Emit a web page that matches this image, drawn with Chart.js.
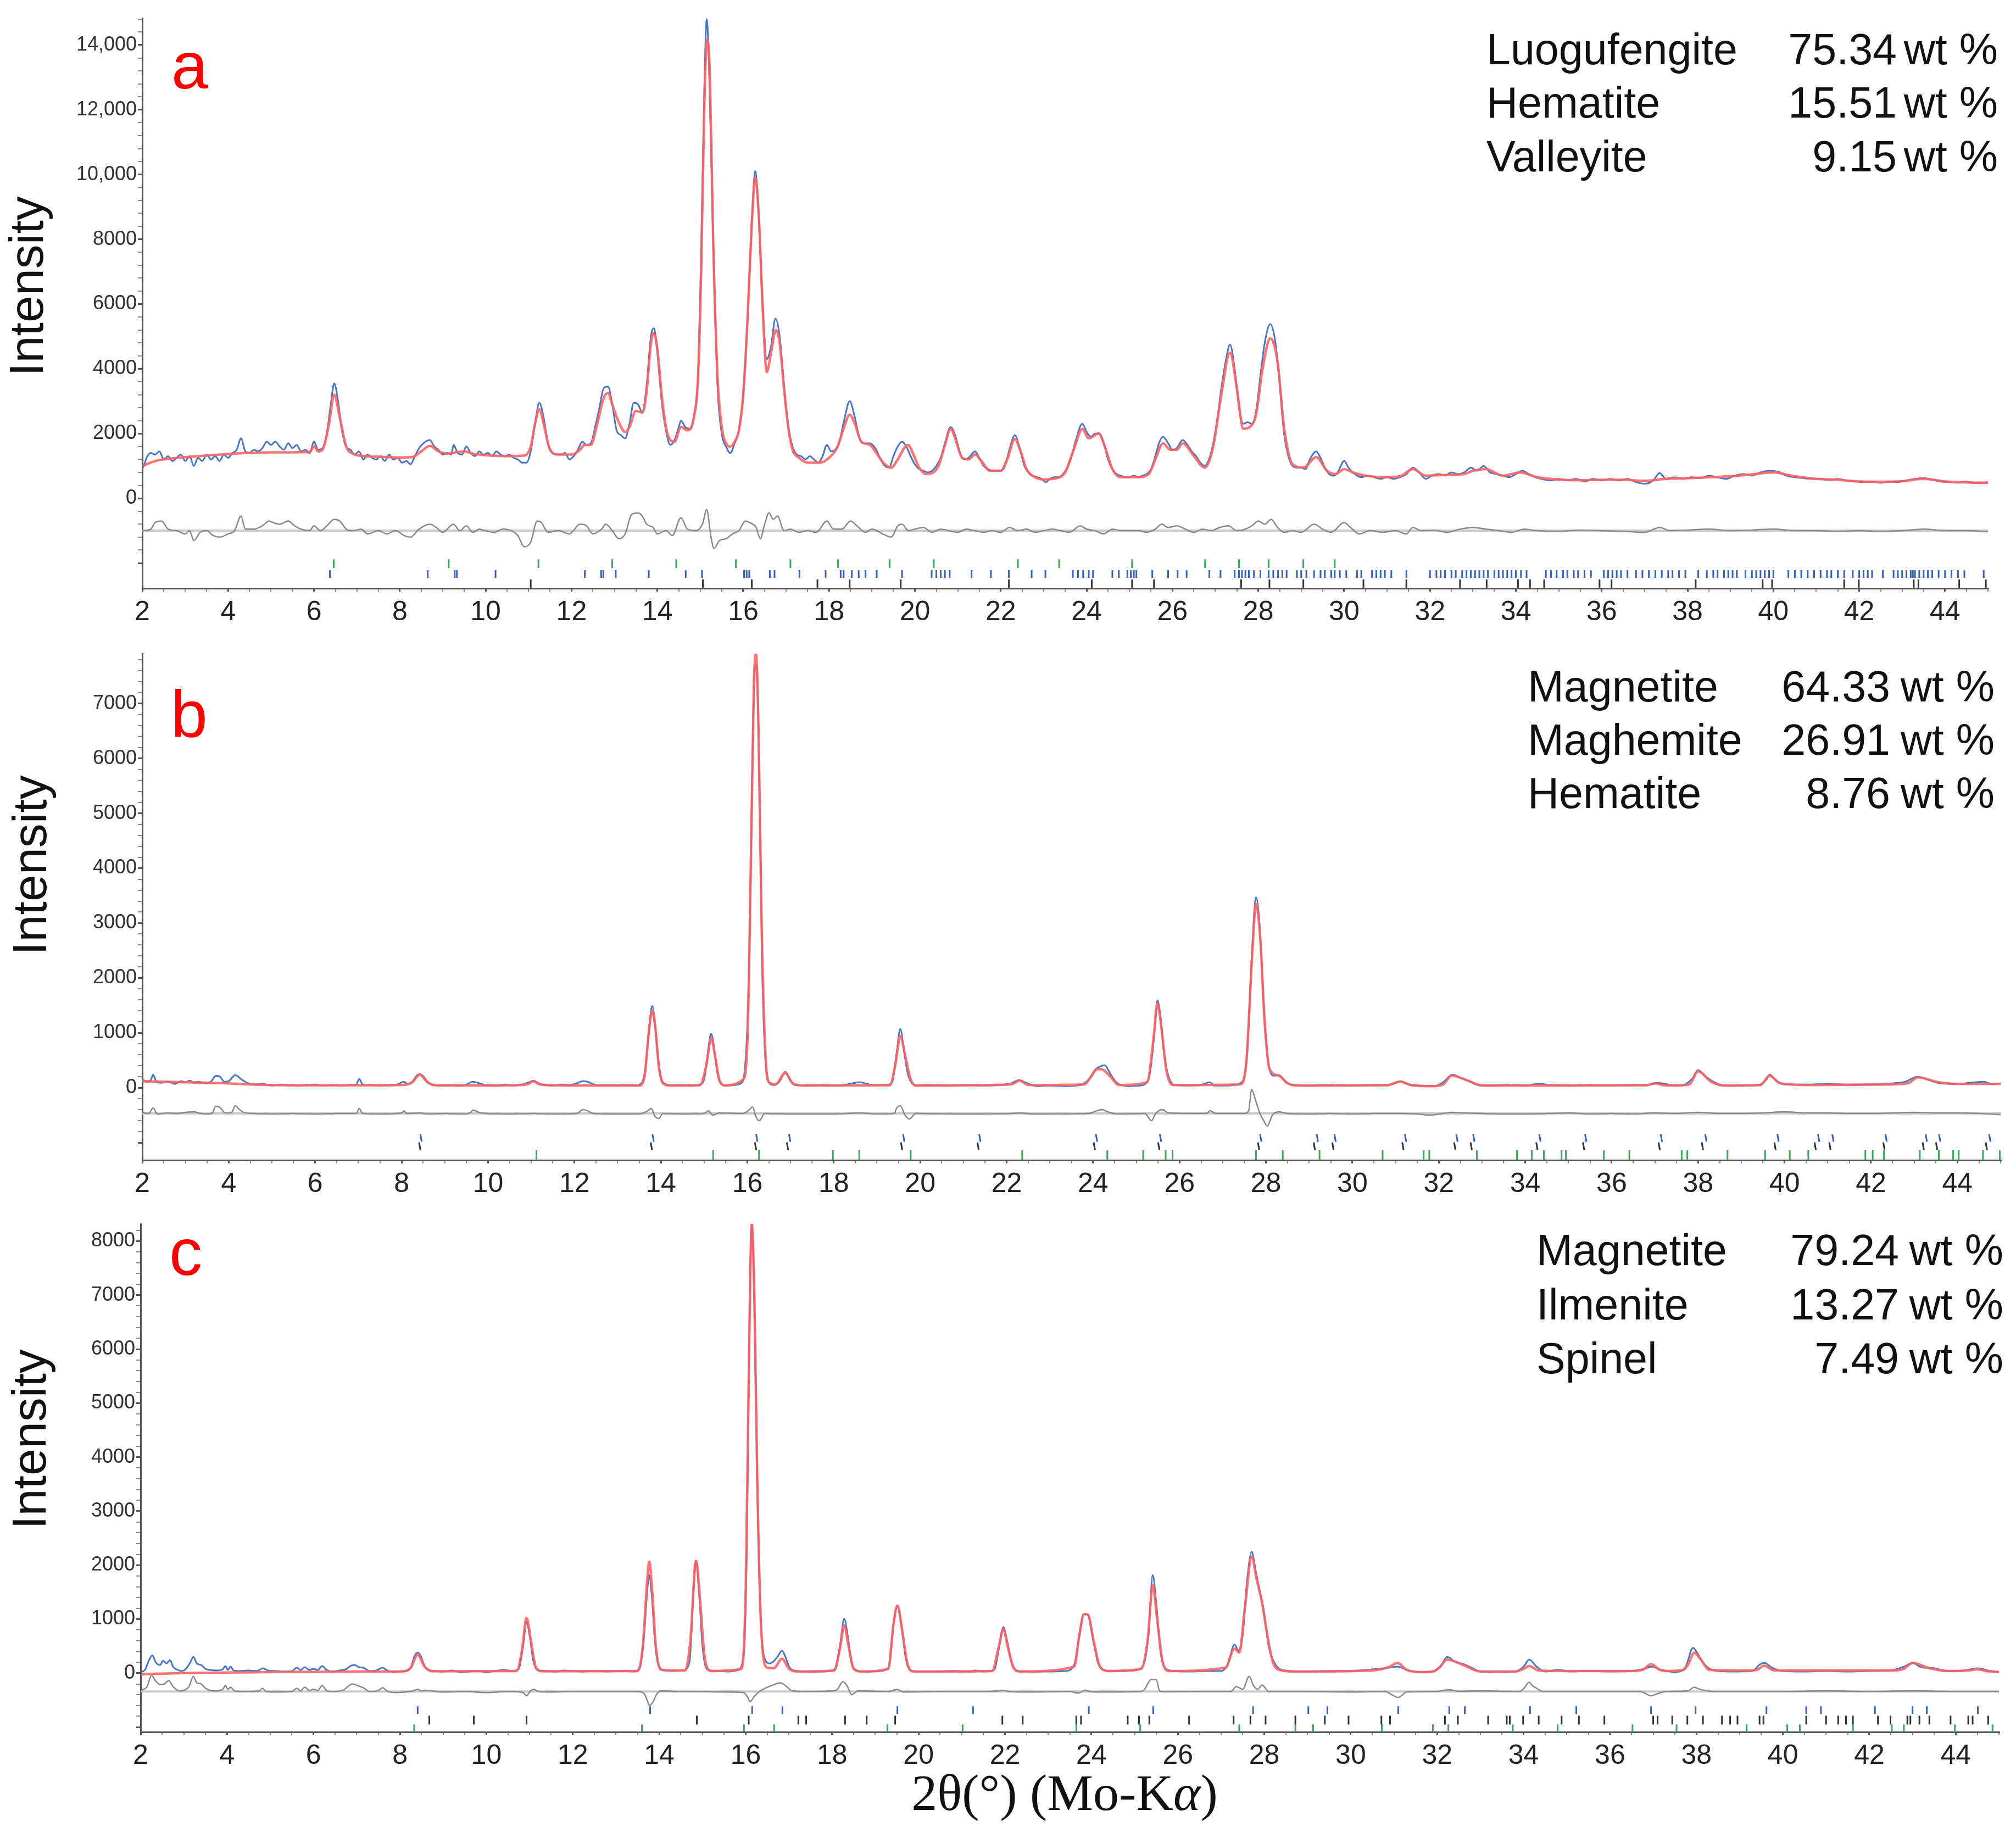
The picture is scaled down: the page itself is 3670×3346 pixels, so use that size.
<!DOCTYPE html>
<html>
<head>
<meta charset="utf-8">
<script src="https://cdn.jsdelivr.net/npm/chart.js@4.4.0/dist/chart.umd.min.js"></script>
<style>
  body { margin: 0; background: #fff; }
  .panel { position: absolute; left: 0; width: 3670px; }
</style>
</head>
<body>
<div class="panel" style="top:0px;height:1150px"><canvas id="chartA" width="3670" height="1150"></canvas></div>
<div class="panel" style="top:1150px;height:1030px"><canvas id="chartB" width="3670" height="1030"></canvas></div>
<div class="panel" style="top:2180px;height:1166px"><canvas id="chartC" width="3670" height="1166"></canvas></div>
<script>
// x axis labels (2theta, degrees)
var xTickValues = [2, 4, 6, 8, 10, 12, 14, 16, 18, 20, 22, 24, 26, 28, 30, 32, 34, 36, 38, 40, 42, 44];
var xMinorStep = 0.5;

// ---------- panel a ----------
var yTicksA = [-2000, 0, 2000, 4000, 6000, 8000, 10000, 12000, 14000];
var yMinorStepA = 400;
var phasesA = ['Luogufengite', 'Hematite', 'Valleyite'];
var wtA = ['75.34', '15.51', '9.15'];

var obsA = [[2.0,900],[2.05,1050],[2.1,1250],[2.2,1400],[2.3,1350],[2.4,1450],[2.5,1200],[2.6,1300],[2.7,1150],[2.8,1250],[2.9,1350],[3.0,1150],[3.1,1300],[3.2,1000],[3.3,1250],[3.4,1150],[3.5,1350],[3.6,1200],[3.7,1300],[3.8,1150],[3.9,1350],[4.0,1250],[4.1,1400],[4.2,1500],[4.3,1850],[4.4,1450],[4.5,1400],[4.6,1500],[4.7,1450],[4.8,1550],[4.9,1750],[5.0,1650],[5.1,1750],[5.2,1600],[5.3,1500],[5.4,1700],[5.5,1550],[5.6,1650],[5.7,1450],[5.8,1500],[5.9,1400],[6.0,1750],[6.1,1500],[6.2,1550],[6.3,2000],[6.4,3000],[6.47,3550],[6.55,3100],[6.65,2100],[6.75,1600],[6.85,1500],[6.95,1350],[7.05,1450],[7.15,1200],[7.25,1350],[7.35,1250],[7.45,1200],[7.55,1300],[7.65,1150],[7.75,1350],[7.85,1200],[7.95,1250],[8.05,1100],[8.15,1150],[8.25,1050],[8.35,1300],[8.45,1550],[8.55,1700],[8.7,1800],[8.8,1600],[8.9,1500],[9.0,1350],[9.1,1400],[9.2,1350],[9.25,1650],[9.35,1400],[9.45,1350],[9.55,1600],[9.65,1400],[9.75,1300],[9.85,1450],[9.95,1350],[10.05,1400],[10.15,1300],[10.25,1450],[10.35,1350],[10.45,1300],[10.55,1350],[10.65,1250],[10.75,1200],[10.85,1100],[10.95,1100],[11.05,1450],[11.15,2300],[11.25,2950],[11.35,2500],[11.45,1700],[11.55,1400],[11.65,1350],[11.75,1350],[11.85,1400],[11.95,1200],[12.05,1300],[12.15,1500],[12.25,1750],[12.35,1650],[12.45,1700],[12.55,2200],[12.65,2800],[12.75,3400],[12.85,3450],[12.95,2900],[13.05,2100],[13.15,1950],[13.25,1850],[13.35,2300],[13.45,2950],[13.55,2900],[13.65,2650],[13.75,3500],[13.85,5000],[13.92,5250],[14.0,4500],[14.1,3000],[14.2,2100],[14.3,1650],[14.4,1800],[14.5,2200],[14.55,2400],[14.65,2200],[14.75,2150],[14.85,2500],[14.95,3800],[15.02,7500],[15.1,13000],[15.15,14800],[15.2,13500],[15.3,8000],[15.4,3500],[15.5,2000],[15.6,1600],[15.7,1400],[15.8,1700],[15.9,2100],[16.0,3200],[16.1,5500],[16.2,8500],[16.28,10100],[16.35,9000],[16.45,6000],[16.55,4300],[16.65,4700],[16.75,5550],[16.85,5000],[16.95,3500],[17.05,2200],[17.15,1600],[17.25,1350],[17.35,1300],[17.45,1200],[17.55,1300],[17.65,1200],[17.75,1100],[17.85,1300],[17.95,1650],[18.05,1450],[18.15,1500],[18.25,1800],[18.35,2400],[18.48,3000],[18.6,2500],[18.7,1900],[18.8,1700],[18.95,1700],[19.1,1500],[19.2,1200],[19.3,1000],[19.4,950],[19.5,1300],[19.6,1600],[19.7,1750],[19.8,1600],[19.9,1300],[20.0,1050],[20.1,900],[20.2,850],[20.3,800],[20.4,850],[20.5,1000],[20.6,1250],[20.7,1700],[20.83,2200],[20.95,1900],[21.05,1400],[21.15,1200],[21.25,1250],[21.4,1450],[21.5,1250],[21.6,1000],[21.7,900],[21.85,850],[22.0,850],[22.1,1000],[22.2,1500],[22.33,1950],[22.45,1500],[22.55,1000],[22.65,800],[22.75,700],[22.85,650],[22.95,600],[23.05,500],[23.15,600],[23.25,650],[23.35,650],[23.45,750],[23.55,950],[23.65,1300],[23.75,1800],[23.9,2300],[24.0,2050],[24.1,1900],[24.2,2000],[24.3,2000],[24.4,1700],[24.5,1200],[24.6,900],[24.7,750],[24.8,700],[24.9,650],[25.0,650],[25.1,700],[25.2,650],[25.3,700],[25.4,750],[25.5,900],[25.6,1300],[25.7,1750],[25.78,1900],[25.9,1700],[26.0,1500],[26.1,1550],[26.24,1800],[26.35,1650],[26.45,1450],[26.55,1300],[26.65,1100],[26.75,1000],[26.85,1200],[26.95,1700],[27.05,2500],[27.15,3500],[27.25,4300],[27.34,4750],[27.45,4000],[27.55,2800],[27.65,2300],[27.75,2350],[27.85,2300],[27.95,2700],[28.05,3800],[28.15,4800],[28.28,5380],[28.4,4800],[28.5,3500],[28.6,2000],[28.7,1300],[28.8,1000],[28.9,950],[29.0,950],[29.1,900],[29.2,1200],[29.35,1450],[29.45,1250],[29.55,950],[29.65,750],[29.75,700],[29.85,800],[30.0,1150],[30.1,950],[30.2,800],[30.3,700],[30.4,650],[30.55,700],[30.7,650],[30.85,600],[31.0,650],[31.15,600],[31.3,650],[31.45,750],[31.6,950],[31.75,800],[31.9,600],[32.05,700],[32.2,750],[32.35,700],[32.5,800],[32.65,750],[32.8,800],[32.95,950],[33.1,850],[33.25,1000],[33.4,800],[33.55,750],[33.7,700],[33.85,650],[34.0,750],[34.15,850],[34.3,750],[34.45,650],[34.6,600],[34.8,550],[35.0,600],[35.2,550],[35.4,600],[35.6,520],[35.8,600],[36.0,550],[36.2,600],[36.4,550],[36.6,600],[36.8,500],[37.0,450],[37.2,550],[37.35,780],[37.5,600],[37.7,650],[37.9,600],[38.1,650],[38.3,620],[38.5,700],[38.7,650],[38.9,600],[39.1,700],[39.3,750],[39.5,700],[39.7,800],[39.9,850],[40.1,820],[40.3,700],[40.5,650],[40.7,620],[40.9,600],[41.1,600],[41.3,570],[41.5,600],[41.7,550],[41.9,520],[42.1,500],[42.3,520],[42.5,480],[42.7,520],[42.9,500],[43.1,550],[43.3,600],[43.5,620],[43.7,580],[43.9,520],[44.1,500],[44.3,480],[44.5,520],[44.7,470],[44.9,480],[45.0,500]];

var calcA = [[2.0,1000],[2.3,1150],[2.6,1220],[3.0,1270],[3.5,1320],[4.0,1370],[4.5,1400],[5.0,1420],[5.5,1420],[5.9,1430],[6.0,1600],[6.1,1450],[6.2,1500],[6.35,2300],[6.47,3200],[6.6,2500],[6.75,1600],[6.9,1380],[7.2,1300],[7.6,1280],[8.0,1260],[8.3,1280],[8.5,1450],[8.7,1620],[8.9,1450],[9.1,1380],[9.3,1420],[9.5,1450],[9.7,1380],[10.0,1330],[10.5,1300],[10.9,1320],[11.05,1600],[11.15,2300],[11.25,2750],[11.35,2300],[11.5,1500],[11.7,1350],[12.0,1350],[12.2,1500],[12.3,1650],[12.45,1650],[12.6,2300],[12.75,3100],[12.85,3250],[12.95,2900],[13.1,2350],[13.25,2050],[13.35,2200],[13.5,2700],[13.65,2650],[13.75,3300],[13.85,4800],[13.92,5100],[14.0,4600],[14.1,3200],[14.2,2200],[14.3,1800],[14.4,1750],[14.55,2200],[14.7,2100],[14.85,2500],[14.95,3800],[15.02,7000],[15.1,12500],[15.16,14150],[15.22,13200],[15.3,8000],[15.4,3800],[15.5,2200],[15.6,1700],[15.7,1600],[15.8,1750],[15.9,2100],[16.0,3200],[16.1,5500],[16.2,8500],[16.28,9900],[16.36,8800],[16.45,6000],[16.55,3900],[16.65,4500],[16.76,5200],[16.85,4800],[16.95,3400],[17.05,2200],[17.15,1500],[17.3,1250],[17.5,1100],[17.8,1100],[18.0,1250],[18.2,1600],[18.35,2200],[18.48,2580],[18.6,2300],[18.75,1750],[18.95,1650],[19.1,1400],[19.3,1050],[19.45,950],[19.6,1200],[19.75,1550],[19.84,1650],[19.95,1400],[20.1,950],[20.25,750],[20.4,780],[20.55,1000],[20.7,1650],[20.83,2140],[20.95,1800],[21.1,1250],[21.25,1200],[21.4,1350],[21.55,1150],[21.75,850],[22.0,850],[22.15,1200],[22.33,1830],[22.45,1500],[22.6,900],[22.8,650],[23.0,580],[23.3,620],[23.5,800],[23.7,1500],[23.9,2140],[24.05,1850],[24.28,2000],[24.45,1500],[24.6,900],[24.8,650],[25.2,650],[25.45,750],[25.6,1200],[25.78,1700],[25.95,1500],[26.1,1500],[26.24,1700],[26.5,1300],[26.75,950],[26.95,1600],[27.15,3300],[27.34,4500],[27.5,3400],[27.65,2150],[27.8,2200],[27.95,2600],[28.1,4000],[28.28,4940],[28.45,4200],[28.6,2200],[28.8,1050],[29.05,950],[29.35,1270],[29.6,850],[29.8,750],[30.0,900],[30.2,800],[30.5,700],[31.0,650],[31.3,680],[31.6,900],[31.9,700],[32.3,720],[32.8,750],[33.0,850],[33.3,900],[33.7,700],[34.1,800],[34.5,650],[35.0,580],[35.5,560],[36.0,570],[36.5,570],[37.0,540],[37.5,600],[38.0,620],[38.5,650],[39.0,680],[39.5,740],[40.0,800],[40.5,680],[41.0,600],[41.5,570],[42.0,520],[42.5,510],[43.0,530],[43.5,600],[44.0,520],[44.5,490],[45.0,480]];

var diffA = [[2.0,-1000],[2.2,-950],[2.3,-750],[2.45,-700],[2.6,-950],[2.8,-1000],[3.0,-1100],[3.1,-1000],[3.2,-1300],[3.35,-1050],[3.5,-1000],[3.65,-1150],[3.8,-1200],[4.0,-1100],[4.15,-1000],[4.3,-550],[4.4,-950],[4.6,-950],[4.8,-850],[4.95,-700],[5.05,-750],[5.2,-800],[5.4,-700],[5.55,-850],[5.7,-950],[5.9,-1000],[6.0,-850],[6.15,-1000],[6.3,-850],[6.47,-650],[6.6,-700],[6.75,-950],[6.9,-1000],[7.1,-950],[7.25,-1100],[7.5,-1000],[7.7,-1100],[7.9,-1000],[8.1,-1150],[8.25,-1200],[8.45,-950],[8.7,-800],[8.85,-900],[9.0,-1050],[9.25,-800],[9.4,-1000],[9.55,-850],[9.7,-1050],[9.85,-950],[10.0,-1000],[10.2,-1050],[10.4,-950],[10.6,-1000],[10.75,-1150],[10.9,-1500],[11.05,-1350],[11.2,-700],[11.3,-750],[11.45,-1050],[11.7,-1000],[11.95,-1100],[12.2,-800],[12.35,-850],[12.5,-1100],[12.7,-950],[12.8,-800],[12.95,-1000],[13.1,-1250],[13.25,-1100],[13.4,-500],[13.55,-450],[13.65,-550],[13.75,-800],[13.9,-900],[14.0,-1100],[14.2,-1000],[14.35,-1150],[14.55,-600],[14.7,-950],[14.9,-1000],[15.05,-800],[15.15,-350],[15.25,-1200],[15.32,-1550],[15.45,-1300],[15.6,-1250],[15.75,-1100],[15.9,-1000],[16.05,-700],[16.15,-750],[16.3,-900],[16.4,-1250],[16.5,-800],[16.6,-450],[16.7,-650],[16.8,-550],[16.95,-1000],[17.1,-950],[17.3,-1050],[17.5,-1000],[17.7,-1050],[17.95,-700],[18.1,-950],[18.3,-950],[18.5,-700],[18.65,-850],[18.85,-1050],[19.0,-950],[19.25,-1100],[19.45,-1200],[19.6,-850],[19.7,-800],[19.85,-1000],[20.0,-950],[20.2,-900],[20.4,-1050],[20.6,-950],[20.8,-1000],[21.0,-1050],[21.2,-950],[21.4,-1000],[21.6,-1050],[21.8,-1000],[22.0,-1050],[22.2,-900],[22.4,-1000],[22.6,-950],[22.8,-1050],[23.0,-1000],[23.2,-950],[23.4,-1000],[23.6,-1050],[23.85,-850],[24.0,-950],[24.2,-1000],[24.4,-1100],[24.6,-950],[24.8,-1000],[25.0,-1000],[25.2,-1000],[25.4,-1050],[25.6,-950],[25.75,-800],[25.9,-900],[26.1,-850],[26.3,-950],[26.5,-1050],[26.7,-950],[26.9,-1000],[27.1,-900],[27.3,-850],[27.5,-1000],[27.7,-950],[27.85,-850],[28.0,-700],[28.15,-800],[28.3,-650],[28.45,-900],[28.6,-1050],[28.8,-1000],[29.0,-1050],[29.3,-800],[29.5,-950],[29.7,-1050],[30.0,-750],[30.15,-900],[30.35,-1100],[30.6,-1000],[30.9,-1050],[31.2,-1000],[31.45,-1100],[31.6,-900],[31.8,-1000],[32.1,-980],[32.4,-1050],[32.7,-950],[33.0,-900],[33.3,-950],[33.6,-1000],[33.9,-1050],[34.2,-950],[34.5,-1000],[35.0,-1020],[35.5,-980],[36.0,-1000],[36.5,-1020],[37.0,-1050],[37.35,-900],[37.6,-1000],[38.0,-980],[38.5,-950],[39.0,-1000],[39.5,-980],[40.0,-950],[40.5,-1000],[41.0,-1000],[41.5,-1020],[42.0,-1000],[42.5,-1020],[43.0,-1000],[43.5,-950],[44.0,-1000],[44.5,-1000],[45.0,-1030]];
var diffZeroA = -1000;

var greenTicksA = [6.46, 9.14, 11.23, 12.95, 14.44, 15.83, 17.1, 18.21, 19.41, 20.44, 22.4, 23.36, 25.06, 26.76, 27.55, 28.24, 29.05, 29.78];
var blueTicksA = [6.37, 8.65, 9.28, 9.33, 10.23, 12.31, 12.69, 12.74, 13.03, 13.8, 14.66, 15.04, 16.02, 16.08, 16.14, 16.62, 16.73, 17.31, 17.92, 18.27, 18.34, 18.53, 18.69, 18.85, 19.11, 19.7, 20.39, 20.5, 20.6, 20.7, 20.81, 21.32, 21.77, 22.19, 22.72, 23.04, 23.68, 23.8, 23.92, 24.05, 24.15, 24.6, 24.75, 24.95, 25.03, 25.1, 25.16, 25.53, 25.9, 26.12, 26.33, 26.86, 27.12, 27.45, 27.55, 27.62, 27.7, 27.78, 27.9, 28.05, 28.24, 28.35, 28.46, 28.56, 28.66, 28.9, 29.0, 29.12, 29.3, 29.45, 29.55, 29.7, 29.78, 29.9, 30.05, 30.3, 30.4, 30.65, 30.75, 30.85, 30.95, 31.1, 31.45, 32.0, 32.15, 32.25, 32.35, 32.5, 32.6, 32.75, 32.85, 32.95, 33.05, 33.15, 33.25, 33.35, 33.5, 33.6, 33.7, 33.8, 33.9, 34.0, 34.12, 34.25, 34.7, 34.82, 34.95, 35.1, 35.2, 35.35, 35.45, 35.6, 35.75, 36.05, 36.15, 36.25, 36.35, 36.45, 36.6, 36.8, 36.95, 37.1, 37.25, 37.4, 37.55, 37.65, 37.8, 37.95, 38.25, 38.45, 38.6, 38.7, 38.85, 38.95, 39.05, 39.15, 39.35, 39.5, 39.6, 39.7, 39.8, 39.9, 40.0, 40.35, 40.5, 40.65, 40.8, 40.95, 41.1, 41.25, 41.35, 41.5, 41.65, 41.85, 42.0, 42.1, 42.2, 42.3, 42.55, 42.8, 42.9, 43.0, 43.1, 43.2, 43.25, 43.3, 43.4, 43.5, 43.6, 43.7, 43.85, 44.0, 44.15, 44.3, 44.45, 44.9];
var blackTicksA = [11.05, 15.06, 16.2, 17.73, 18.48, 19.67, 22.19, 24.12, 25.06, 25.57, 27.6, 28.26, 29.05, 30.45, 31.45, 32.7, 33.32, 34.05, 34.33, 34.66, 35.95, 36.23, 38.19, 39.75, 39.97, 41.65, 41.99, 43.27, 43.38, 44.33, 44.95];

// ---------- panel b ----------
var yTicksB = [-1000, 0, 1000, 2000, 3000, 4000, 5000, 6000, 7000];
var yMinorStepB = 200;
var phasesB = ['Magnetite', 'Maghemite', 'Hematite'];
var wtB = ['64.33', '26.91', '8.76'];

var obsB = [[2.0,150],[2.1,110],[2.2,140],[2.25,240],[2.32,120],[2.45,90],[2.6,110],[2.75,70],[2.9,120],[3.0,100],[3.1,130],[3.2,90],[3.3,110],[3.45,80],[3.6,120],[3.7,220],[3.8,200],[3.9,110],[4.0,120],[4.15,230],[4.3,150],[4.45,80],[4.6,60],[4.8,70],[5.0,40],[5.2,60],[5.4,50],[5.6,40],[5.8,50],[6.0,60],[6.2,40],[6.4,50],[6.6,40],[6.8,50],[6.95,60],[7.02,160],[7.1,60],[7.3,50],[7.5,40],[7.7,50],[7.9,60],[8.05,110],[8.15,60],[8.25,110],[8.35,220],[8.42,250],[8.5,210],[8.6,110],[8.7,50],[8.9,40],[9.1,50],[9.3,40],[9.5,60],[9.65,110],[9.8,80],[9.95,50],[10.2,40],[10.4,60],[10.6,40],[10.8,60],[10.95,100],[11.05,130],[11.15,90],[11.3,50],[11.5,40],[11.7,60],[11.9,50],[12.05,80],[12.2,120],[12.3,110],[12.45,60],[12.6,40],[12.8,50],[13.0,40],[13.2,50],[13.4,40],[13.55,80],[13.65,400],[13.74,1200],[13.8,1490],[13.86,1200],[13.93,600],[14.0,200],[14.1,70],[14.3,40],[14.5,50],[14.7,40],[14.9,60],[15.0,150],[15.08,600],[15.16,980],[15.23,750],[15.3,300],[15.38,90],[15.5,40],[15.7,50],[15.85,80],[15.95,400],[16.05,2500],[16.12,6000],[16.18,7700],[16.22,7600],[16.28,5500],[16.35,2000],[16.42,500],[16.5,100],[16.6,50],[16.75,120],[16.88,290],[16.98,150],[17.1,50],[17.4,40],[17.7,50],[18.0,40],[18.3,60],[18.6,100],[18.9,50],[19.2,50],[19.35,100],[19.45,600],[19.54,1070],[19.62,700],[19.7,300],[19.8,90],[19.95,40],[20.3,50],[20.6,40],[21.0,50],[21.4,40],[21.8,50],[22.1,80],[22.29,140],[22.45,90],[22.7,30],[23.0,40],[23.4,30],[23.7,50],[23.9,150],[24.05,330],[24.15,380],[24.27,410],[24.4,250],[24.55,90],[24.8,30],[25.1,40],[25.3,200],[25.42,1000],[25.49,1590],[25.56,1300],[25.65,600],[25.75,200],[25.9,50],[26.2,40],[26.5,50],[26.7,100],[26.8,40],[27.1,40],[27.4,80],[27.55,500],[27.68,2500],[27.77,3470],[27.86,2900],[27.95,1500],[28.05,500],[28.18,220],[28.3,230],[28.45,120],[28.6,50],[29.0,40],[29.5,50],[30.0,40],[30.5,50],[30.9,60],[31.12,120],[31.3,60],[31.6,40],[31.9,30],[32.1,100],[32.32,240],[32.5,180],[32.7,120],[32.9,50],[33.2,40],[33.6,50],[34.0,40],[34.3,70],[34.6,50],[35.0,40],[35.5,50],[36.0,40],[36.5,50],[36.9,60],[37.05,90],[37.3,60],[37.6,40],[37.85,150],[38.0,320],[38.15,220],[38.35,110],[38.6,40],[39.0,40],[39.4,50],[39.58,150],[39.66,240],[39.8,130],[40.0,60],[40.5,60],[41.0,70],[41.5,60],[42.0,60],[42.5,80],[42.8,110],[43.07,200],[43.3,150],[43.6,80],[44.0,70],[44.3,90],[44.6,110],[44.8,70],[45.0,80]];

var calcB = [[2.0,120],[2.5,110],[3.0,100],[3.5,90],[4.0,80],[4.5,60],[5.0,50],[6.0,45],[7.0,45],[8.0,50],[8.25,100],[8.42,240],[8.6,100],[8.8,45],[10.0,40],[10.9,60],[11.05,120],[11.2,60],[12.0,40],[13.5,40],[13.62,200],[13.72,1000],[13.8,1406],[13.87,1100],[13.95,400],[14.05,80],[14.2,40],[14.9,45],[15.05,400],[15.16,904],[15.26,550],[15.36,120],[15.5,40],[15.9,150],[16.0,800],[16.08,4000],[16.15,7300],[16.2,7900],[16.26,6500],[16.33,3000],[16.42,600],[16.5,100],[16.65,60],[16.88,270],[17.05,80],[17.3,40],[19.3,45],[19.42,400],[19.54,940],[19.65,600],[19.78,150],[19.9,40],[22.1,60],[22.3,130],[22.5,50],[23.8,60],[23.95,200],[24.1,340],[24.22,330],[24.4,200],[24.6,50],[25.25,100],[25.4,900],[25.49,1540],[25.58,1100],[25.7,300],[25.85,50],[27.4,60],[27.55,500],[27.68,2400],[27.77,3350],[27.87,2700],[27.97,1200],[28.08,350],[28.3,220],[28.5,80],[28.8,40],[30.8,45],[31.1,110],[31.4,40],[31.9,30],[32.1,60],[32.3,220],[32.7,120],[33.0,40],[34.5,40],[36.8,45],[37.0,80],[37.2,45],[37.5,40],[37.8,60],[38.0,300],[38.3,110],[38.6,40],[39.45,50],[39.65,220],[39.9,80],[40.5,50],[42.5,60],[42.85,80],[43.1,190],[43.5,110],[44.0,70],[45.0,70]];

var diffB = [[2.0,-450],[2.15,-470],[2.25,-370],[2.35,-480],[2.6,-460],[2.8,-470],[3.0,-450],[3.2,-440],[3.35,-470],[3.5,-480],[3.62,-460],[3.7,-340],[3.8,-360],[3.9,-450],[4.0,-460],[4.08,-440],[4.15,-330],[4.25,-400],[4.35,-450],[4.6,-470],[5.0,-480],[5.5,-470],[6.0,-480],[6.5,-470],[6.95,-470],[7.02,-380],[7.1,-470],[7.5,-480],[8.0,-460],[8.05,-420],[8.12,-470],[8.42,-460],[8.6,-480],[9.0,-470],[9.5,-480],[9.6,-450],[9.65,-410],[9.8,-450],[9.95,-470],[10.5,-480],[11.05,-470],[11.5,-480],[12.05,-470],[12.2,-400],[12.3,-420],[12.45,-470],[13.0,-480],[13.5,-480],[13.7,-420],[13.78,-380],[13.86,-520],[13.95,-560],[14.05,-470],[14.5,-480],[15.0,-470],[15.1,-420],[15.2,-500],[15.35,-460],[15.9,-470],[16.05,-400],[16.12,-350],[16.2,-530],[16.28,-600],[16.4,-470],[17.0,-480],[18.0,-480],[18.6,-460],[19.0,-480],[19.4,-470],[19.45,-380],[19.54,-330],[19.65,-500],[19.75,-570],[19.9,-470],[21.0,-480],[22.1,-470],[22.3,-460],[22.6,-480],[23.9,-470],[24.05,-430],[24.2,-400],[24.35,-440],[24.55,-480],[25.2,-470],[25.35,-600],[25.45,-470],[25.6,-400],[25.75,-460],[26.5,-470],[26.65,-460],[26.7,-420],[26.85,-470],[27.5,-470],[27.6,-420],[27.67,-30],[27.75,-200],[27.85,-450],[27.95,-600],[28.03,-700],[28.15,-500],[28.3,-440],[28.5,-470],[29.0,-480],[29.5,-470],[30.0,-480],[30.5,-470],[31.1,-470],[31.5,-480],[31.8,-500],[32.1,-470],[32.3,-450],[32.6,-460],[33.0,-470],[33.5,-480],[34.0,-480],[34.5,-470],[35.0,-460],[35.5,-480],[36.0,-470],[36.5,-480],[37.0,-460],[37.5,-470],[38.0,-450],[38.5,-470],[39.0,-470],[39.5,-460],[40.0,-440],[40.5,-460],[41.0,-460],[41.5,-470],[42.0,-470],[42.5,-460],[43.0,-450],[43.5,-460],[44.0,-460],[44.5,-470],[45.0,-490]];
var diffZeroB = -470;

var blueTicksB = [8.45, 13.82, 16.22, 16.98, 19.62, 21.38, 24.08, 25.56, 27.88, 29.19, 29.6, 31.23, 32.42, 32.81, 34.34, 35.4, 37.15, 38.18, 39.85, 40.79, 41.12, 42.35, 43.28, 43.59, 44.75];
var blackTicksB = [8.42, 13.78, 16.19, 16.93, 19.57, 21.34, 24.03, 25.52, 27.83, 29.12, 29.55, 31.17, 32.37, 32.75, 34.27, 35.35, 37.1, 38.1, 39.78, 40.71, 41.05, 42.3, 43.21, 43.52, 44.67];
var greenTicksB = [11.12, 15.21, 16.27, 17.98, 18.59, 19.78, 22.36, 24.33, 25.16, 25.68, 25.84, 27.77, 28.39, 29.24, 30.7, 31.65, 31.78, 32.88, 33.81, 34.15, 34.43, 34.84, 34.94, 35.82, 36.41, 37.62, 37.75, 38.68, 39.55, 40.12, 40.55, 41.87, 42.04, 42.3, 43.13, 43.57, 43.9, 44.03, 44.59, 44.98];

// ---------- panel c ----------
var yTicksC = [-1000, 0, 1000, 2000, 3000, 4000, 5000, 6000, 7000, 8000];
var yMinorStepC = 200;
var phasesC = ['Magnetite', 'Ilmenite', 'Spinel'];
var wtC = ['79.24', '13.27', '7.49'];

var obsC = [[2.0,20],[2.1,60],[2.2,250],[2.27,330],[2.35,200],[2.45,150],[2.52,230],[2.6,180],[2.68,240],[2.75,120],[2.85,60],[2.95,40],[3.05,80],[3.15,200],[3.22,300],[3.3,180],[3.4,150],[3.5,80],[3.6,60],[3.75,50],[3.9,70],[3.96,130],[4.02,60],[4.08,120],[4.15,50],[4.3,40],[4.5,50],[4.7,40],[4.82,90],[4.95,50],[5.1,40],[5.3,30],[5.5,40],[5.62,100],[5.7,60],[5.8,110],[5.9,60],[6.0,80],[6.1,60],[6.2,130],[6.3,60],[6.45,30],[6.6,50],[6.75,70],[6.85,130],[6.95,150],[7.05,110],[7.15,100],[7.3,40],[7.45,50],[7.6,100],[7.7,50],[7.85,20],[8.0,30],[8.15,40],[8.25,100],[8.34,320],[8.41,380],[8.48,320],[8.56,150],[8.65,60],[8.8,40],[9.0,30],[9.2,50],[9.4,20],[9.6,30],[9.8,40],[10.0,20],[10.2,40],[10.4,60],[10.6,40],[10.75,80],[10.85,500],[10.93,945],[11.0,700],[11.08,250],[11.18,60],[11.35,40],[11.6,30],[11.8,50],[12.0,40],[12.2,30],[12.5,40],[12.8,30],[13.1,40],[13.4,30],[13.55,100],[13.65,700],[13.72,1500],[13.77,1815],[13.83,1400],[13.9,600],[13.98,150],[14.1,60],[14.3,40],[14.55,50],[14.7,200],[14.78,1300],[14.85,2080],[14.92,1500],[15.0,500],[15.1,80],[15.3,40],[15.6,30],[15.8,50],[15.95,300],[16.03,2500],[16.08,6000],[16.14,8300],[16.2,7000],[16.27,3500],[16.35,1000],[16.45,250],[16.55,180],[16.65,220],[16.75,320],[16.84,416],[16.92,300],[17.02,100],[17.2,40],[17.5,30],[17.8,30],[18.05,60],[18.18,500],[18.28,1005],[18.36,700],[18.45,200],[18.55,50],[18.8,30],[19.1,40],[19.3,100],[19.42,900],[19.51,1250],[19.6,900],[19.7,300],[19.8,60],[20.0,30],[20.4,30],[20.8,40],[21.2,30],[21.3,50],[21.5,30],[21.75,60],[21.87,500],[21.96,850],[22.05,600],[22.15,200],[22.3,40],[22.6,30],[23.0,30],[23.4,40],[23.6,150],[23.72,700],[23.82,1090],[23.92,1080],[24.02,700],[24.15,200],[24.3,50],[24.6,40],[25.0,50],[25.2,150],[25.32,700],[25.42,1815],[25.5,1300],[25.6,400],[25.7,100],[25.9,40],[26.3,30],[26.7,40],[27.0,40],[27.15,150],[27.31,530],[27.4,420],[27.5,700],[27.6,1700],[27.71,2245],[27.8,1900],[27.9,1500],[28.0,1100],[28.1,500],[28.2,250],[28.35,80],[28.6,40],[29.0,30],[29.5,40],[30.0,40],[30.5,70],[30.8,90],[31.08,120],[31.3,60],[31.6,20],[31.9,30],[32.1,150],[32.23,300],[32.4,220],[32.6,170],[32.8,100],[33.0,30],[33.4,20],[33.8,30],[34.0,120],[34.13,250],[34.3,120],[34.5,30],[34.8,60],[35.1,30],[35.5,40],[36.0,30],[36.5,40],[36.8,80],[36.95,120],[37.2,60],[37.5,20],[37.75,120],[37.92,470],[38.05,330],[38.2,150],[38.4,50],[38.8,30],[39.3,40],[39.45,150],[39.57,190],[39.75,100],[40.0,40],[40.5,30],[41.0,40],[41.5,30],[42.0,40],[42.5,50],[42.8,120],[43.0,190],[43.2,110],[43.5,90],[43.8,40],[44.2,50],[44.5,90],[44.8,40],[45.0,20]];

var calcC = [[2.0,-20],[2.5,-10],[3.0,0],[4.0,10],[5.0,20],[6.0,25],[7.0,30],[8.0,30],[8.25,100],[8.41,340],[8.56,130],[8.75,35],[10.7,40],[10.82,400],[10.93,1020],[11.03,600],[11.15,100],[11.3,35],[13.5,40],[13.62,500],[13.72,1700],[13.77,2064],[13.83,1600],[13.92,500],[14.05,60],[14.6,50],[14.72,600],[14.85,2080],[14.95,1300],[15.05,300],[15.2,40],[15.9,80],[16.0,1500],[16.08,6000],[16.14,8320],[16.2,7000],[16.27,3500],[16.36,800],[16.5,100],[16.65,90],[16.84,265],[17.0,80],[17.2,30],[18.05,50],[18.18,450],[18.28,885],[18.38,500],[18.5,80],[18.7,30],[19.3,80],[19.42,900],[19.51,1250],[19.62,800],[19.75,150],[19.9,30],[21.7,40],[21.86,500],[21.96,815],[22.06,500],[22.2,100],[22.35,30],[23.6,120],[23.72,700],[23.83,1095],[23.92,1080],[24.05,600],[24.2,120],[24.4,40],[25.15,80],[25.3,600],[25.42,1625],[25.52,1000],[25.65,200],[25.8,40],[27.1,100],[27.31,455],[27.42,380],[27.55,1200],[27.71,2155],[27.82,1750],[27.95,1300],[28.05,800],[28.2,200],[28.4,50],[28.7,30],[30.5,50],[30.9,120],[31.08,190],[31.3,60],[31.6,20],[31.9,30],[32.05,100],[32.23,250],[32.6,150],[33.0,30],[33.8,30],[34.0,80],[34.13,130],[34.35,50],[34.8,40],[36.5,40],[36.75,60],[36.95,166],[37.15,60],[37.3,40],[37.7,60],[37.8,150],[37.95,378],[38.1,250],[38.3,60],[39.3,50],[39.4,60],[39.57,136],[39.8,50],[42.6,50],[42.8,80],[43.0,190],[43.4,90],[43.8,40],[44.3,50],[44.5,70],[44.7,40],[45.0,20]];

var diffC = [[2.0,-320],[2.15,-250],[2.25,-40],[2.35,-150],[2.45,-210],[2.55,-200],[2.65,-140],[2.75,-250],[2.9,-330],[3.05,-300],[3.12,-250],[3.22,-60],[3.3,-180],[3.4,-200],[3.5,-280],[3.7,-330],[3.9,-300],[3.96,-230],[4.02,-300],[4.08,-260],[4.18,-330],[4.4,-340],[4.75,-330],[4.82,-280],[4.9,-340],[5.1,-350],[5.5,-340],[5.62,-280],[5.7,-330],[5.8,-260],[5.9,-320],[6.0,-300],[6.1,-320],[6.2,-230],[6.3,-320],[6.45,-340],[6.7,-310],[6.9,-200],[7.05,-240],[7.15,-270],[7.3,-340],[7.5,-320],[7.6,-270],[7.7,-330],[7.9,-360],[8.3,-330],[8.41,-300],[8.5,-330],[8.6,-320],[9.0,-350],[9.5,-340],[10.0,-360],[10.5,-340],[10.85,-360],[10.93,-420],[11.02,-330],[11.1,-300],[11.2,-340],[11.5,-350],[12.0,-340],[12.5,-340],[13.0,-340],[13.5,-340],[13.65,-380],[13.72,-500],[13.77,-600],[13.85,-540],[13.95,-380],[14.05,-330],[14.5,-340],[14.85,-340],[15.5,-350],[15.95,-360],[16.05,-450],[16.1,-530],[16.2,-430],[16.3,-350],[16.45,-280],[16.6,-230],[16.8,-180],[16.95,-250],[17.05,-320],[17.3,-340],[18.0,-330],[18.12,-300],[18.25,-160],[18.35,-240],[18.45,-400],[18.55,-350],[18.6,-330],[19.3,-340],[19.45,-310],[19.5,-300],[19.65,-350],[20.5,-340],[21.5,-340],[21.85,-330],[21.96,-320],[22.1,-340],[22.5,-350],[23.5,-340],[23.7,-370],[23.85,-320],[24.0,-345],[24.2,-350],[25.15,-340],[25.25,-280],[25.3,-200],[25.38,-120],[25.5,-120],[25.58,-330],[25.7,-345],[26.5,-340],[27.2,-340],[27.25,-330],[27.35,-250],[27.5,-300],[27.65,-60],[27.75,-230],[27.85,-300],[27.95,-220],[28.1,-340],[29.0,-340],[30.0,-350],[30.8,-340],[30.95,-400],[31.1,-450],[31.3,-350],[32.0,-340],[32.15,-320],[32.3,-310],[32.5,-335],[33.0,-330],[33.9,-340],[34.0,-290],[34.13,-170],[34.2,-230],[34.3,-280],[34.45,-340],[35.5,-340],[36.7,-340],[36.85,-390],[36.95,-420],[37.1,-380],[37.3,-340],[37.8,-330],[37.95,-260],[38.05,-290],[38.2,-320],[38.4,-340],[39.0,-340],[40.0,-340],[41.0,-330],[42.0,-340],[43.0,-330],[44.0,-340],[45.0,-340]];
var diffZeroC = -340;

var blueTicksC = [8.41, 13.79, 16.15, 16.85, 19.51, 21.26, 23.94, 25.43, 27.74, 29.02, 29.46, 31.1, 32.28, 32.64, 34.15, 35.22, 36.95, 37.98, 39.62, 40.54, 40.88, 42.13, 43.0, 43.33, 44.51];
var blackTicksC = [8.68, 9.71, 10.93, 14.87, 16.07, 17.22, 17.4, 18.3, 18.8, 19.46, 21.94, 22.41, 23.65, 23.76, 24.84, 25.1, 25.34, 26.26, 27.29, 27.68, 28.03, 28.72, 29.4, 29.95, 30.71, 30.91, 32.18, 32.48, 33.18, 33.61, 33.68, 33.99, 34.35, 34.88, 35.28, 35.87, 37.0, 37.1, 37.44, 37.79, 38.15, 38.59, 38.78, 38.95, 39.46, 39.55, 40.54, 41.0, 41.28, 41.46, 41.62, 42.2, 42.49, 42.88, 42.95, 43.16, 43.39, 43.88, 44.29, 44.39, 44.75];
var greenTicksC = [8.33, 13.6, 15.96, 16.66, 19.28, 21.02, 23.65, 25.13, 27.42, 28.72, 29.13, 30.72, 31.9, 32.26, 33.75, 34.79, 36.52, 37.54, 39.16, 40.1, 40.39, 41.62, 42.52, 42.8, 43.98, 44.85];

var OBS_COLOR = '#4676c8';
var CALC_COLOR = 'rgba(255, 96, 96, 0.88)';
var DIFF_COLOR = '#888888';
var GREEN_TICK = '#3aa65a';
var BLUE_TICK = '#3462b8';
var BLACK_TICK = '#333333';
var AXIS_COLOR = '#555555';
var SANS = '"Liberation Sans", Arial, sans-serif';

function toPoints(pairs) {
    return pairs.map(function (p) { return { x: p[0], y: p[1] }; });
}

function tickPoints(list, level) {
    return list.map(function (t) { return { x: t, y: level }; });
}

function lineSet(pairs, color, width, order) {
    return {
        data: toPoints(pairs),
        borderColor: color,
        borderWidth: width,
        pointRadius: 0,
        showLine: true,
        fill: false,
        cubicInterpolationMode: 'monotone',
        order: order
    };
}

function tickSet(list, level, color, len, rot) {
    return {
        data: tickPoints(list, level),
        showLine: false,
        pointStyle: 'line',
        rotation: rot || 90,
        pointRadius: len,
        borderColor: color,
        backgroundColor: color,
        pointBorderWidth: 3,
        order: 5
    };
}

function yLabel(v) {
    if (v < 0) return '';
    if (v >= 10000) return v.toLocaleString('en-US');
    return String(v);
}

// labelled ticks plus small unlabelled ones in between
function withMinor(mainValues, step, lo, hi) {
    var out = mainValues.map(function (v) { return { value: v, isMain: true }; });
    for (var v = lo; v <= hi + 1e-9; v += step) {
        var r = Math.round(v * 1000) / 1000;
        if (mainValues.indexOf(r) < 0) out.push({ value: r, isMain: false });
    }
    out.sort(function (a, b) { return a.value - b.value; });
    return out;
}

// text drawn on top of each panel: letter, phase table, axis titles
var panelText = {
    id: 'panelText',
    afterDraw: function (chart, args, o) {
        var ctx = chart.ctx;
        ctx.save();
        // y title
        ctx.save();
        ctx.translate(o.yTitleX, o.yTitleY);
        ctx.rotate(-Math.PI / 2);
        ctx.font = '88px ' + SANS;
        ctx.textAlign = 'center';
        ctx.textBaseline = 'middle';
        ctx.fillStyle = '#111';
        ctx.fillText('Intensity', 0, 0);
        ctx.restore();
        // panel letter
        ctx.font = '120px ' + SANS;
        ctx.fillStyle = '#ff0000';
        ctx.textAlign = 'left';
        ctx.textBaseline = 'alphabetic';
        ctx.fillText(o.letter, o.letterX, o.letterY);
        // phase table
        ctx.font = '79px ' + SANS;
        ctx.fillStyle = '#111';
        for (var i = 0; i < o.phases.length; i++) {
            var yy = o.rowY[i];
            ctx.textAlign = 'left';
            ctx.fillText(o.phases[i], o.nameX, yy);
            ctx.textAlign = 'right';
            ctx.fillText(o.wt[i], o.numRight, yy);
            ctx.fillText('wt %', o.wtRight, yy);
        }
        // x title (only bottom panel)
        if (o.xTitle) {
            var part1 = '2\u03b8(\u00b0) (Mo-K';
            var part2 = '\u03b1';
            var part3 = ')';
            var fN = '94px "Liberation Serif", "Times New Roman", serif';
            var fI = 'italic 94px "Liberation Serif", "Times New Roman", serif';
            ctx.font = fN; var w1 = ctx.measureText(part1).width; var w3 = ctx.measureText(part3).width;
            ctx.font = fI; var w2 = ctx.measureText(part2).width;
            var x0 = o.xTitleX - (w1 + w2 + w3) / 2;
            ctx.fillStyle = '#111';
            ctx.textAlign = 'left';
            ctx.font = fN; ctx.fillText(part1, x0, o.xTitleY);
            ctx.font = fI; ctx.fillText(part2, x0 + w1, o.xTitleY);
            ctx.font = fN; ctx.fillText(part3, x0 + w1 + w2, o.xTitleY);
        }
        ctx.restore();
    }
};

function tickColor(c) {
    return c.tick && c.tick.isMain ? AXIS_COLOR : '#8a8a8a';
}
function tickWidth(c) {
    return c.tick && c.tick.isMain ? 3 : 2;
}

function buildPanel(id, p) {
    var datasets = [
        lineSet(p.calc, CALC_COLOR, 4.5, 0),
        lineSet(p.obs, OBS_COLOR, 3, 1),
        lineSet(p.diff, DIFF_COLOR, 2.5, 2),
        lineSet([[2, p.diffZero], [45, p.diffZero]], '#c9c9c9', 4, 3)
    ];
    p.ticks.forEach(function (t) {
        datasets.push(tickSet(t.list, t.level, t.color, t.len, t.rot));
    });

    return new Chart(document.getElementById(id), {
        type: 'scatter',
        data: { datasets: datasets },
        plugins: [panelText],
        options: {
            responsive: false,
            animation: false,
            events: [],
            layout: { padding: { top: p.padTop, right: p.padRight, left: 0, bottom: 0 } },
            plugins: {
                legend: { display: false },
                tooltip: { enabled: false },
                panelText: p.text
            },
            scales: {
                x: {
                    type: 'linear',
                    min: 2,
                    max: 45,
                    afterBuildTicks: function (s) { s.ticks = withMinor(xTickValues, xMinorStep, 2, 45); },
                    afterFit: function (s) { s.height = p.xAxisHeight; },
                    ticks: {
                        autoSkip: false,
                        maxRotation: 0,
                        padding: 8,
                        color: '#222',
                        font: { family: SANS, size: 50 },
                        callback: function (v, i, t) { return t[i].isMain ? String(v) : ''; }
                    },
                    grid: { drawOnChartArea: false, tickLength: 6, color: tickColor, lineWidth: tickWidth },
                    border: { color: AXIS_COLOR, width: 3 }
                },
                y: {
                    type: 'linear',
                    min: p.yMin,
                    max: p.yMax,
                    afterBuildTicks: function (s) { s.ticks = withMinor(p.yTicks, p.yMinor, p.yTicks[0], p.yMax); },
                    afterFit: function (s) { s.width = p.axisLeft; },
                    ticks: {
                        autoSkip: false,
                        padding: 2,
                        color: '#333',
                        font: { family: SANS, size: 36 },
                        callback: function (v, i, t) { return t[i].isMain ? yLabel(v) : ''; }
                    },
                    grid: { drawOnChartArea: false, tickLength: 8, color: tickColor, lineWidth: tickWidth },
                    border: { color: AXIS_COLOR, width: 3 }
                }
            }
        }
    });
}

buildPanel('chartA', {
    obs: obsA, calc: calcA, diff: diffA, diffZero: diffZeroA,
    yTicks: yTicksA, yMinor: yMinorStepA, yMin: -2780, yMax: 14830,
    axisLeft: 259, padTop: 33, padRight: 51, xAxisHeight: 79,
    ticks: [
        { list: greenTicksA, level: -2020, color: GREEN_TICK, len: 8 },
        { list: blueTicksA, level: -2340, color: BLUE_TICK, len: 7 },
        { list: blackTicksA, level: -2640, color: BLACK_TICK, len: 8 }
    ],
    text: {
        yTitleX: 54, yTitleY: 521, letter: 'a', letterX: 312, letterY: 161,
        phases: phasesA, wt: wtA, nameX: 2706, numRight: 3453, wtRight: 3637, rowY: [117, 214, 312]
    }
});

buildPanel('chartB', {
    obs: obsB, calc: calcB, diff: diffB, diffZero: diffZeroB,
    yTicks: yTicksB, yMinor: yMinorStepB, yMin: -1320, yMax: 7910,
    axisLeft: 259, padTop: 40, padRight: 28, xAxisHeight: 68,
    ticks: [
        { list: blueTicksB, level: -915, color: BLUE_TICK, len: 7, rot: 80 },
        { list: blackTicksB, level: -1065, color: BLACK_TICK, len: 7, rot: 80 },
        { list: greenTicksB, level: -1230, color: GREEN_TICK, len: 9 }
    ],
    text: {
        yTitleX: 60, yTitleY: 425, letter: 'b', letterX: 311, letterY: 191,
        phases: phasesB, wt: wtB, nameX: 2781, numRight: 3441, wtRight: 3631, rowY: [127, 224, 321]
    }
});

buildPanel('chartC', {
    obs: obsC, calc: calcC, diff: diffC, diffZero: diffZeroC,
    yTicks: yTicksC, yMinor: yMinorStepC, yMin: -1090, yMax: 8320,
    axisLeft: 256, padTop: 48, padRight: 31, xAxisHeight: 193,
    ticks: [
        { list: blueTicksC, level: -685, color: BLUE_TICK, len: 7 },
        { list: blackTicksC, level: -870, color: BLACK_TICK, len: 8 },
        { list: greenTicksC, level: -1020, color: GREEN_TICK, len: 7 }
    ],
    text: {
        yTitleX: 59, yTitleY: 440, letter: 'c', letterX: 308, letterY: 141,
        phases: phasesC, wt: wtC, nameX: 2797, numRight: 3457, wtRight: 3647, rowY: [123, 222, 320],
        xTitle: true, xTitleX: 1938, xTitleY: 1115
    }
});
</script>
</body>
</html>
